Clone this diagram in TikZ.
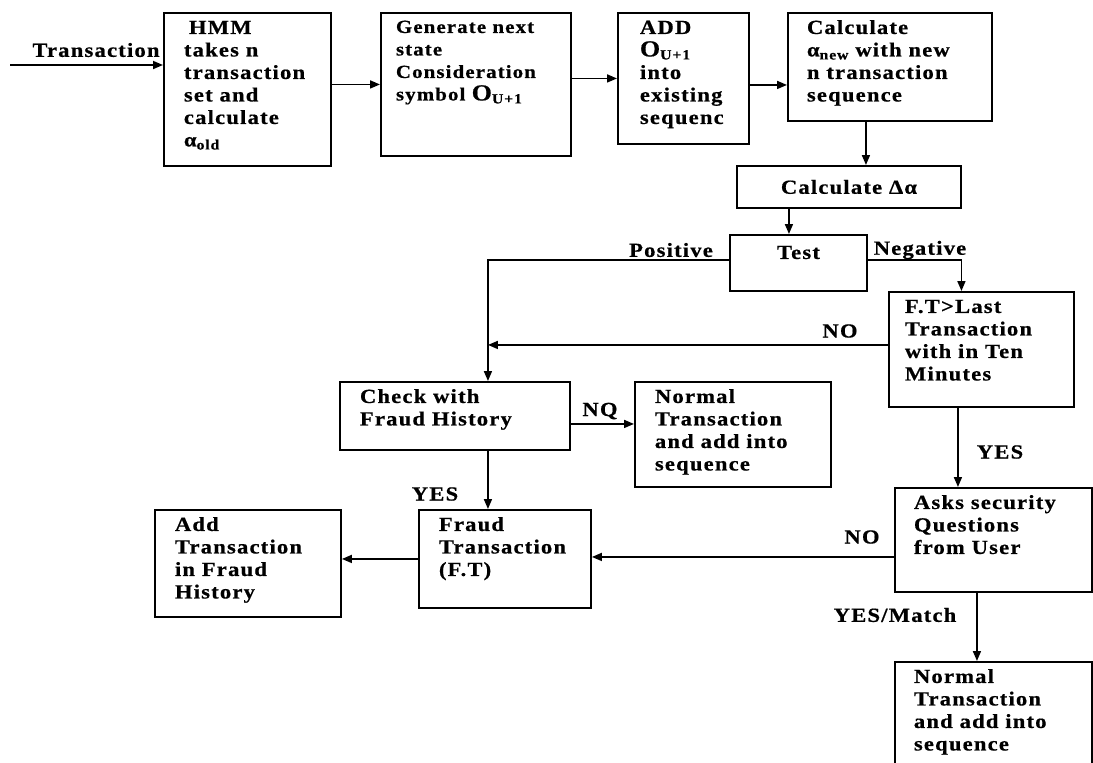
\documentclass[tikz,border=0pt]{standalone}
\usepackage{fontspec}
\setmainfont{Liberation Serif}[FakeStretch=1.13,LetterSpace=6,FakeBold=0.6]
\usetikzlibrary{arrows.meta}
\newcommand\bxt[4]{\parbox[c][#2][t]{#1}{\raggedright\leftskip=#3\relax\fontsize{20}{22.5}\selectfont\rule{0pt}{21pt}#4}}
\newcommand\cxt[3]{\parbox[c][#2][t]{#1}{\centering\fontsize{20}{22.5}\selectfont\rule{0pt}{24pt}#3}}
\newcommand\lowsub[1]{\raisebox{-3pt}{\fontsize{14}{14}\selectfont #1}}
\newcommand\bigO{{\fontsize{23}{23}\selectfont O}}
\tikzset{
  box/.style={draw, line width=1.9pt, inner sep=0pt, anchor=north west},
  arr/.style={line width=1.7pt, -{Triangle[length=10pt,width=8pt]}},
  lbl/.style={font=\fontsize{20}{20}\selectfont\bfseries, inner sep=0pt},
}
\begin{document}
\begin{tikzpicture}[x=1pt,y=-1pt,font=\bfseries]
\useasboundingbox (0,0) rectangle (1093,763);
% boxes
\node[box] (hmm) at (163,12) {\bfseries\bxt{167pt}{153pt}{20pt}{\hspace*{5pt}HMM\\ takes n\\ transaction\\ set and\\ calculate\\ α\lowsub{old}}};
\node[box] (gen) at (380,12) {\bfseries\parbox[c][143pt][t]{190pt}{\raggedright\leftskip=15pt\fontsize{18.5}{22.5}\selectfont\rule{0pt}{20pt}Generate next\\ state\\ Consideration\\ symbol \bigO\lowsub{U+1}}};
\node[box] (add) at (617,12) {\bfseries\bxt{131pt}{131pt}{22pt}{ADD\\ \bigO\lowsub{U+1}\\ into\\ existing\\ sequenc}};
\node[box] (calc) at (787,12) {\bfseries\bxt{204pt}{108pt}{19pt}{Calculate\\ α\lowsub{new} with new\\ n transaction\\ sequence}};
\node[box, minimum width=224pt, minimum height=42pt] (delta) at (736,165) {\fontsize{20}{20}\selectfont\bfseries Calculate Δα};
\node[box] (test) at (729,234) {\bfseries\cxt{137pt}{56pt}{Test}};
\node[box] (ft) at (888,291) {\bfseries\bxt{185pt}{115pt}{16pt}{F.T>Last\\ Transaction\\ with in Ten\\ Minutes}};
\node[box] (check) at (339,381) {\bfseries\bxt{230pt}{68pt}{20pt}{Check with\\ Fraud History}};
\node[box] (norm1) at (634,381) {\bfseries\bxt{196pt}{105pt}{20pt}{Normal\\ Transaction\\ and add into\\ sequence}};
\node[box] (fraud) at (418,509) {\bfseries\bxt{172pt}{98pt}{20pt}{Fraud\\ Transaction\\ (F.T)}};
\node[box] (addf) at (154,509) {\bfseries\bxt{186pt}{107pt}{20pt}{Add\\ Transaction\\ in Fraud\\ History}};
\node[box] (asks) at (894,487) {\bfseries\bxt{197pt}{104pt}{19pt}{Asks security\\ Questions\\ from User}};
\node[box] (norm2) at (894,661) {\bfseries\bxt{197pt}{120pt}{19pt}{Normal\\ Transaction\\ and add into\\ sequence}};
% helper coordinates
\coordinate (tin) at (10,65);
\coordinate (pv) at ([xshift=33pt]check.north);
% connectors
\draw[arr] (tin) -- (tin -| hmm.west);
\draw[arr] (hmm.east |- gen.west) -- (gen.west);
\draw[arr] (gen.east |- add.west) -- (add.west);
\draw[arr] ([yshift=-6.5pt]add.east) -- ([yshift=-6.5pt]add.east -| calc.west);
\draw[arr] ([xshift=-24pt]calc.south) -- ([xshift=-24pt]calc.south |- delta.north);
\draw[arr] ([xshift=-9.5pt]test.north |- delta.south) -- ([xshift=-9.5pt]test.north);
\draw[arr] ([yshift=3pt]test.west) -| (pv);
\draw[arr] ([yshift=3pt]test.east) -| ([xshift=-20pt]ft.north);
\draw[arr] ([yshift=4.5pt]ft.west) -- ([yshift=4.5pt]ft.west -| pv);
\draw[arr] ([yshift=-8pt]check.east) -- ([yshift=-8pt]check.east -| norm1.west);
\draw[arr] (check.south -| pv) -- (fraud.north -| pv);
\draw[arr] (fraud.west) -- (fraud.west -| addf.east);
\draw[arr] ([xshift=-23.5pt]ft.south) -- ([xshift=-23.5pt]ft.south |- asks.north);
\draw[arr] ([yshift=-17pt]asks.west) -- ([yshift=-17pt]asks.west -| fraud.east);
\draw[arr] ([xshift=-16.5pt]asks.south) -- ([xshift=-16.5pt]asks.south |- norm2.north);
% labels
\node[lbl] (ltrans) at (96,50) {Transaction};
\node[lbl] (lpos) at (671,250) {Positive};
\node[lbl] (lneg) at (920,250) {Negative};
\node[lbl] (lno1) at (840,331) {NO};
\node[lbl] (lnq) at (600,411) {NQ};
\node[lbl] (lyes1) at (435,494) {YES};
\node[lbl] (lyes2) at (1000,452) {YES};
\node[lbl] (lno2) at (862,537) {NO};
\node[lbl] (lmatch) at (895,615) {YES/Match};
\end{tikzpicture}
\end{document}
